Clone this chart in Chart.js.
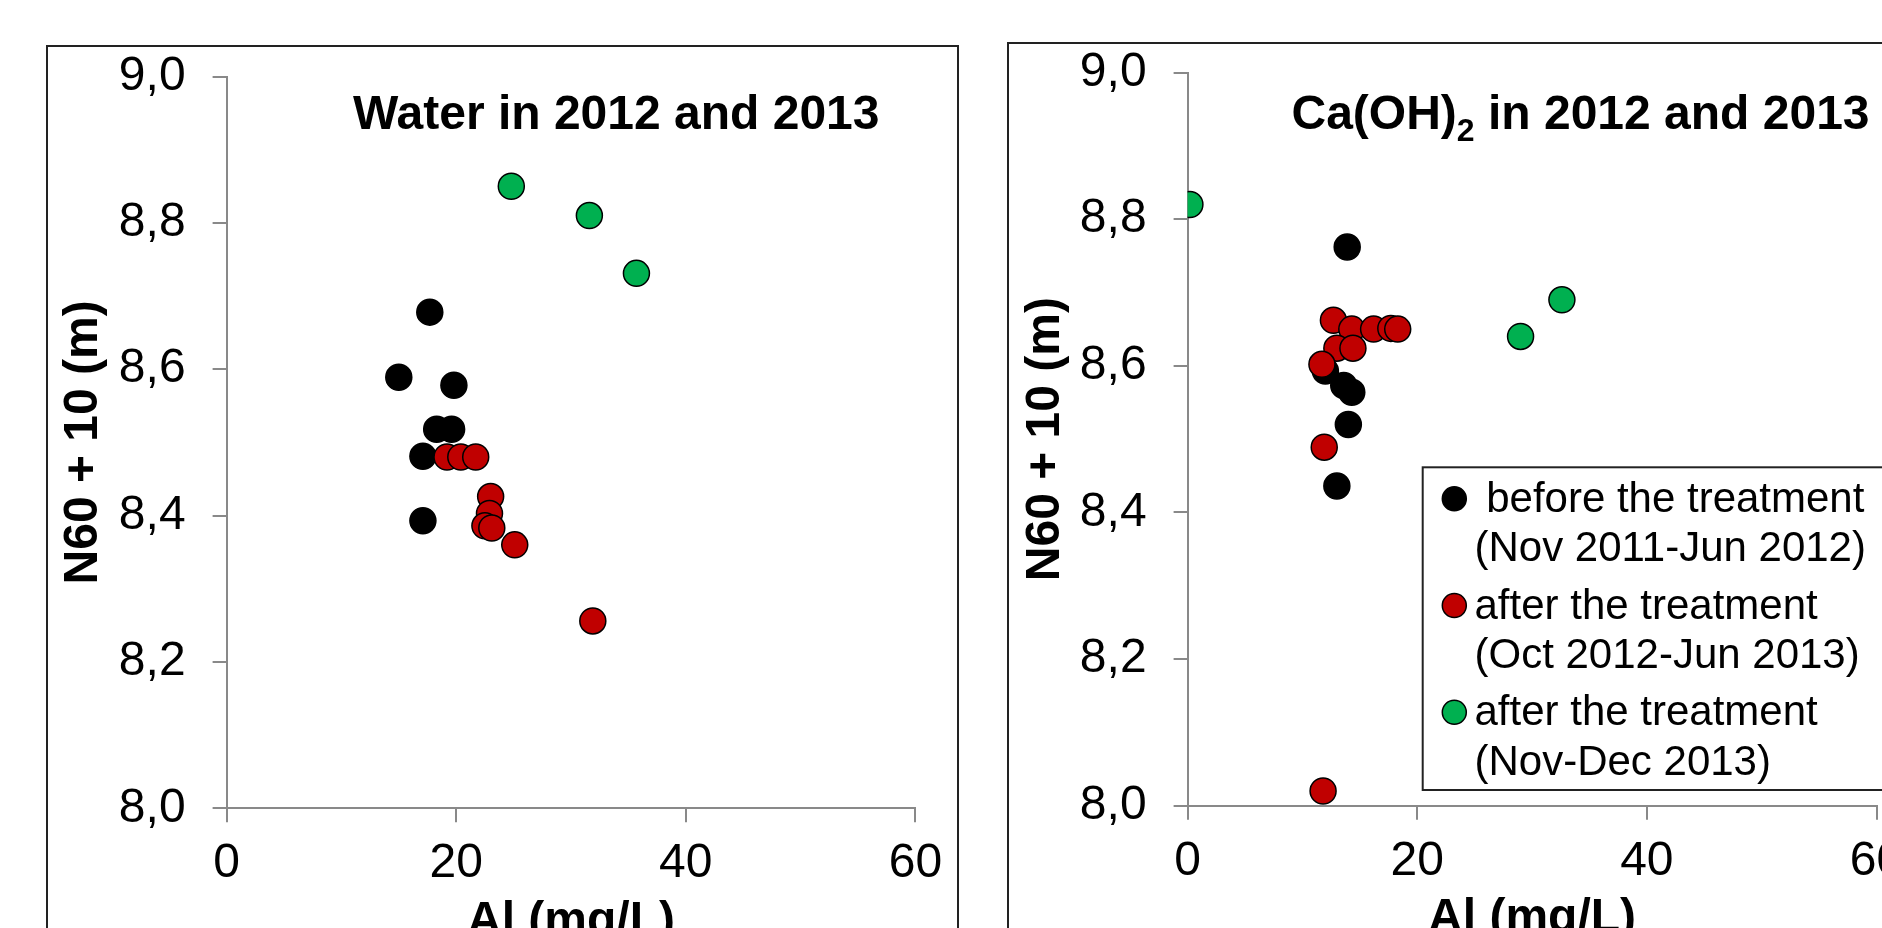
<!DOCTYPE html>
<html lang="en">
<head>
  <meta charset="UTF-8">
  <title>N60 + 10 vs Al</title>
  <script src="https://cdn.jsdelivr.net/npm/chart.js"></script>
  <style>
    html, body {
      margin: 0;
      padding: 0;
      background: #fff;
      width: 1882px;
      height: 928px;
      overflow: hidden;
    }
    .frame {
      position: absolute;
      border: 2px solid #222;
      box-sizing: border-box;
    }
    #frameLeft { left: 46px; top: 45px; width: 913px; height: 1000px; }
    #frameRight { left: 1007px; top: 42px; width: 1000px; height: 1000px; }
    .wrap {
      position: absolute;
      top: 0;
      width: 960px;
      height: 1000px;
    }
    #wrapLeft { left: 0; }
    #wrapRight { left: 960px; }
  </style>
</head>
<body>
  <div class="frame" id="frameLeft"></div>
  <div class="frame" id="frameRight"></div>
  <div class="wrap" id="wrapLeft"><canvas id="waterChart"></canvas></div>
  <div class="wrap" id="wrapRight"><canvas id="limeChart"></canvas></div>
  <script>
    const FONT = "'Liberation Sans', Arial, sans-serif";

    // Axis ticks
    const xTickValues = [0, 20, 40, 60];
    const yTickValues = [8.0, 8.2, 8.4, 8.6, 8.8, 9.0];
    const yTickLabels = ['8,0', '8,2', '8,4', '8,6', '8,8', '9,0'];

    // Legend text (two lines per entry)
    const legendLabels = [
      [' before the treatment', '(Nov 2011-Jun 2012)'],
      ['after the treatment', '(Oct 2012-Jun 2013)'],
      ['after the treatment', '(Nov-Dec 2013)']
    ];

    // Water in 2012 and 2013
    const waterBeforeAl  = [17.7, 15.0, 19.8, 18.3, 19.6, 17.1, 17.1];
    const waterBeforeN60 = [8.678, 8.589, 8.578, 8.518, 8.518, 8.481, 8.393];
    const waterAfterAl   = [19.2, 20.4, 21.7, 23.0, 22.9, 22.5, 23.1, 25.1, 31.9];
    const waterAfterN60  = [8.480, 8.480, 8.480, 8.426, 8.403, 8.386, 8.383, 8.360, 8.256];
    const waterLateAl    = [24.8, 31.6, 35.7];
    const waterLateN60   = [8.850, 8.810, 8.731];

    // Ca(OH)2 in 2012 and 2013
    const limeBeforeAl  = [13.9, 12.0, 13.6, 14.3, 14.0, 13.0];
    const limeBeforeN60 = [8.762, 8.593, 8.573, 8.564, 8.520, 8.436];
    const limeAfterAl   = [12.7, 14.3, 16.2, 17.7, 18.3, 13.0, 14.4, 11.7, 11.9, 11.8];
    const limeAfterN60  = [8.662, 8.650, 8.650, 8.651, 8.650, 8.624, 8.624, 8.602, 8.489, 8.020];
    const limeLateAl    = [0.2, 29.0, 32.6];
    const limeLateN60   = [8.820, 8.640, 8.690];

    const seriesColors = ['#000000', '#C00000', '#00B050'];

    function toPoints(al, n60) {
      return al.map((a, i) => ({ x: a, y: n60[i] }));
    }

    function makeDatasets(groups) {
      return groups.map((g, i) => ({
        label: legendLabels[i].join(' '),
        data: toPoints(g[0], g[1]),
        pointRadius: 13,
        pointHoverRadius: 13,
        pointBackgroundColor: seriesColors[i],
        pointBorderColor: '#000',
        pointBorderWidth: 1.5,
        order: 3 - i   // later series sit on top
      }));
    }

    // Bold title written inside the plot area, with optional subscript parts
    const panelTitle = {
      id: 'panelTitle',
      afterDraw(chart, args, opts) {
        const { ctx, chartArea } = chart;
        let x = chartArea.left + opts.dx;
        const y = chartArea.top + opts.dy;
        ctx.save();
        ctx.fillStyle = '#000';
        ctx.textBaseline = 'alphabetic';
        ctx.textAlign = 'left';
        opts.parts.forEach(p => {
          ctx.font = p.sub ? `bold 32px ${FONT}` : `bold 48px ${FONT}`;
          ctx.fillText(p.text, x, y + (p.sub ? 12 : 0));
          x += ctx.measureText(p.text).width;
        });
        ctx.restore();
      }
    };

    // Boxed legend inside the plot area (right panel only)
    const boxLegend = {
      id: 'boxLegend',
      afterDraw(chart, args, opts) {
        if (!opts.display) return;
        const { ctx, chartArea } = chart;
        const left = chartArea.left + opts.dx;
        const top = chartArea.top + opts.dy;
        ctx.save();
        ctx.fillStyle = '#fff';
        ctx.fillRect(left, top, opts.width, opts.height);
        ctx.lineWidth = 2;
        ctx.strokeStyle = '#222';
        ctx.strokeRect(left, top, opts.width, opts.height);
        ctx.font = `42px ${FONT}`;
        ctx.textBaseline = 'alphabetic';
        ctx.textAlign = 'left';
        chart.data.datasets.forEach((ds, i) => {
          const base = top + opts.firstBaseline + i * opts.entryStep;
          ctx.beginPath();
          ctx.arc(left + opts.markerX, base - 13, 12, 0, Math.PI * 2);
          ctx.fillStyle = ds.pointBackgroundColor;
          ctx.fill();
          ctx.lineWidth = 1.5;
          ctx.strokeStyle = '#000';
          ctx.stroke();
          ctx.fillStyle = '#000';
          legendLabels[i].forEach((line, j) => {
            ctx.fillText(line, left + opts.textX, base + j * opts.lineStep);
          });
        });
        ctx.restore();
      }
    };

    function makePanel(canvasId, groups, p) {
      const axisColor = '#898989';
      return new Chart(document.getElementById(canvasId), {
        type: 'scatter',
        data: { datasets: makeDatasets(groups) },
        plugins: [panelTitle, boxLegend],
        options: {
          responsive: true,
          maintainAspectRatio: false,
          animation: false,
          layout: { padding: p.padding },
          plugins: {
            legend: { display: false },
            tooltip: { enabled: false },
            panelTitle: { parts: p.title, dx: p.titleDx, dy: p.titleDy },
            boxLegend: p.legend
          },
          scales: {
            x: {
              type: 'linear',
              min: 0,
              max: 60,
              afterBuildTicks: s => { s.ticks = xTickValues.map(v => ({ value: v })); },
              afterFit: s => { s.height = 142.2; },
              ticks: {
                color: '#000',
                padding: 13,
                maxRotation: 0,
                font: { family: FONT, size: 48, lineHeight: 1.2 }
              },
              grid: { drawOnChartArea: false, drawTicks: true, tickLength: 14, color: axisColor, lineWidth: 2 },
              border: { display: true, color: axisColor, width: 2 },
              title: {
                display: true,
                text: 'Al (mg/L)',
                color: '#000',
                padding: { top: 0, bottom: 0 },
                font: { family: FONT, size: 48, weight: 'bold', lineHeight: 1.2 }
              }
            },
            y: {
              type: 'linear',
              min: 8,
              max: 9,
              afterBuildTicks: s => { s.ticks = yTickValues.map(v => ({ value: v })); },
              afterFit: s => { s.width = 180; },
              ticks: {
                color: '#000',
                padding: 27,
                font: { family: FONT, size: 48, lineHeight: 1.2 },
                callback: (v, i) => yTickLabels[i]
              },
              grid: { drawOnChartArea: false, drawTicks: true, tickLength: 14, color: axisColor, lineWidth: 2 },
              border: { display: true, color: axisColor, width: 2 },
              title: {
                display: true,
                text: 'N60 + 10 (m)',
                color: '#000',
                padding: { top: p.yTitlePad, bottom: 0 },
                font: { family: FONT, size: 48, weight: 'bold', lineHeight: 1.2 }
              }
            }
          }
        }
      });
    }

    makePanel('waterChart', [
      [waterBeforeAl, waterBeforeN60],
      [waterAfterAl, waterAfterN60],
      [waterLateAl, waterLateN60]
    ], {
      padding: { left: 46.6, right: 44.6, top: 76.5, bottom: 49.5 },
      title: [{ text: 'Water in 2012 and 2013' }],
      titleDx: 126.4,
      titleDy: 52.5,
      yTitlePad: 8,
      legend: { display: false }
    });

    makePanel('limeChart', [
      [limeBeforeAl, limeBeforeN60],
      [limeAfterAl, limeAfterN60],
      [limeLateAl, limeLateN60]
    ], {
      padding: { left: 47.6, right: 43.5, top: 72.5, bottom: 52.1 },
      title: [{ text: 'Ca(OH)' }, { text: '2', sub: true }, { text: ' in 2012 and 2013' }],
      titleDx: 103.9,
      titleDy: 56.5,
      yTitlePad: 9,
      legend: {
        display: true,
        dx: 235.1,
        dy: 394.8,
        width: 500,
        height: 322.7,
        markerX: 31.6,
        textX: 51.8,
        firstBaseline: 44.5,
        entryStep: 106.7,
        lineStep: 49.5
      }
    });
  </script>
</body>
</html>
